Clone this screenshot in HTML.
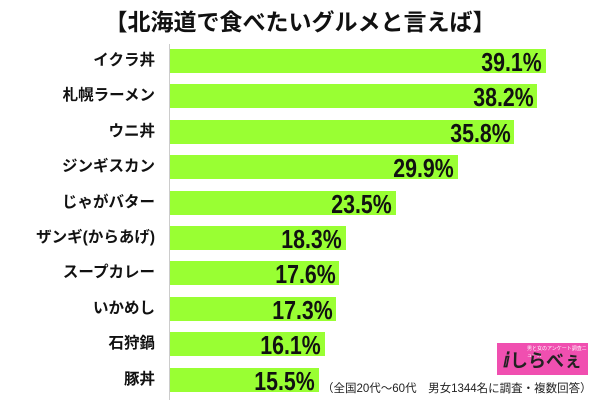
<!DOCTYPE html>
<html><head><meta charset="utf-8"><style>
body{margin:0;width:600px;height:400px;background:#fff;overflow:hidden;position:relative;font-family:"Liberation Sans","Noto Sans CJK JP",sans-serif}
.t{position:absolute;top:3px;left:0;width:600px;text-align:center;font-size:23px;font-weight:bold;color:#111}
.ax{position:absolute;left:169px;top:44px;width:1px;height:356px;background:#ccc}
.l{position:absolute;right:445px;font-size:15.5px;font-weight:bold;color:#111;white-space:nowrap;line-height:24px}
.b{position:absolute;left:170px;height:24px;background:#99ff33}
.v{position:absolute;font-family:"Liberation Sans",sans-serif;font-weight:bold;font-size:26px;color:#111;line-height:24px;transform:scaleX(0.82);transform-origin:right center}
.n{position:absolute;left:322px;top:380px;font-size:11.5px;color:#222;white-space:nowrap}
.logo{position:absolute;left:497px;top:343px;width:91px;height:32px;background:#f04fb0}
</style></head><body>
<div class="t">【北海道で食べたいグルメと言えば】</div>
<div class="ax"></div>
<div id="c"></div>
<div class="n">（全国20代～60代　男女1344名に調査・複数回答）</div>
<div class="logo"><div style="position:absolute;left:30px;top:2px;font-size:5px;color:#fff">男と女のアンケート調査ニュース</div><div style="position:absolute;left:6px;top:6px;font-size:20px;font-weight:bold;color:#222;line-height:24px">ⅈ<span style="font-size:18px">しらべぇ</span></div></div>
<script>
var d=[["イクラ丼",39.1],["札幌ラーメン",38.2],["ウニ丼",35.8],["ジンギスカン",29.9],["じゃがバター",23.5],["ザンギ(からあげ)",18.3],["スープカレー",17.6],["いかめし",17.3],["石狩鍋",16.1],["豚丼",15.5]];
var h="";d.forEach(function(r,i){var y=49+i*35.4,w=r[1]*9.62;
h+='<div class="l" style="top:'+y+'px">'+r[0]+'</div><div class="b" style="top:'+y+'px;width:'+w+'px"></div><div class="v" style="top:'+(y+1)+'px;right:'+(600-170-w+4)+'px">'+r[1].toFixed(1)+'%</div>';});
document.getElementById("c").innerHTML=h;
</script>
</body></html>
